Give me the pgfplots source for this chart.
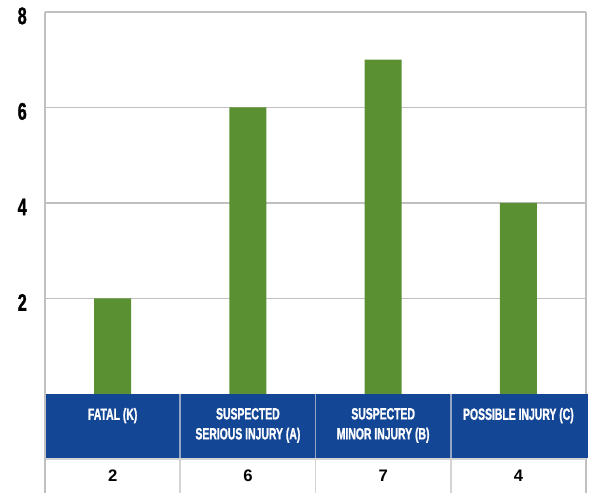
\documentclass[border=0pt]{standalone}
\usepackage{fontspec}
\setmainfont{Liberation Sans}
\newfontfamily\cond[FakeStretch=0.64, FakeBold=1.2]{Liberation Sans}
\newfontfamily\tickf[FakeStretch=0.68, FakeBold=1.2]{Liberation Sans}
\usepackage{pgfplots}
\pgfplotsset{compat=1.18}
\definecolor{bargreen}{RGB}{90,144,50}
\definecolor{hdrblue}{RGB}{19,70,149}
\definecolor{gridgray}{RGB}{192,192,192}
\definecolor{cellgray}{RGB}{212,212,212}
\definecolor{hdrline}{RGB}{150,165,195}
\tikzset{
  hdr/.style={anchor=north, inner sep=0pt, align=center, text=white, font=\cond\bfseries\fontsize{12.2}{15}\selectfont},
  val/.style={inner sep=0pt, font=\bfseries\fontsize{12.5}{14}\selectfont},
}
\begin{document}
\begin{tikzpicture}
\begin{axis}[
  scale only axis, width=405.75pt, height=286.5pt,
  xmin=-0.5, xmax=3.5, ymin=0, ymax=8,
  clip=false,
  axis x line=none,
  axis y line=left,
  axis line style={draw=gridgray, line width=1.2pt, -},
  ytick={2,4,6,8},
  major tick length=0pt,
  ymajorgrids,
  grid style={draw=gridgray, line width=1.2pt},
  /pgf/number format/assume math mode=true,
  yticklabel style={font=\tickf\bfseries\fontsize{18}{19}\selectfont, anchor=east, inner sep=0pt, xshift=-13.5pt, yshift=-3pt},
  ybar, bar width=27.75pt,
]
\addplot[fill=bargreen, draw=none] coordinates {(0,2) (1,6) (2,7) (3,4)};
% right border
\draw[gridgray, line width=1.2pt] (axis cs:3.5,8) -- (axis cs:3.5,-2.1);
% table
\fill[hdrblue] (axis cs:-0.5,0) rectangle (axis cs:3.515,-1.34);
\draw[hdrline, line width=1.2pt] (axis cs:0.5,0) -- (axis cs:0.5,-1.34);
\draw[hdrline, line width=1.2pt] (axis cs:1.5,0) -- (axis cs:1.5,-1.34);
\draw[hdrline, line width=1.2pt] (axis cs:2.5,0) -- (axis cs:2.5,-1.34);
\draw[cellgray, line width=1.2pt] (axis cs:0.5,-1.34) -- (axis cs:0.5,-2.1);
\draw[cellgray, line width=1.2pt] (axis cs:1.5,-1.34) -- (axis cs:1.5,-2.1);
\draw[cellgray, line width=1.2pt] (axis cs:2.5,-1.34) -- (axis cs:2.5,-2.1);
\draw[cellgray, line width=1pt] (axis cs:-0.5,-1.36) -- (axis cs:3.5,-1.36);
\draw[gridgray, line width=1.2pt] (axis cs:-0.5,0) -- (axis cs:-0.5,-2.1);
\node[hdr] at (axis cs:0,-0.29) {FATAL (K)};
\node[hdr] at (axis cs:1,-0.29) {SUSPECTED\\SERIOUS INJURY (A)};
\node[hdr] at (axis cs:2,-0.29) {SUSPECTED\\MINOR INJURY (B)};
\node[hdr] at (axis cs:3,-0.29) {POSSIBLE INJURY (C)};
\node[val] at (axis cs:0,-1.717) {2};
\node[val] at (axis cs:1,-1.717) {6};
\node[val] at (axis cs:2,-1.717) {7};
\node[val] at (axis cs:3,-1.717) {4};
\coordinate (bbA) at (axis cs:-0.833,8.25);
\coordinate (bbB) at (axis cs:3.522,-2.07);
\end{axis}
\pgfresetboundingbox
\path (bbA) rectangle (bbB);
\end{tikzpicture}
\end{document}
